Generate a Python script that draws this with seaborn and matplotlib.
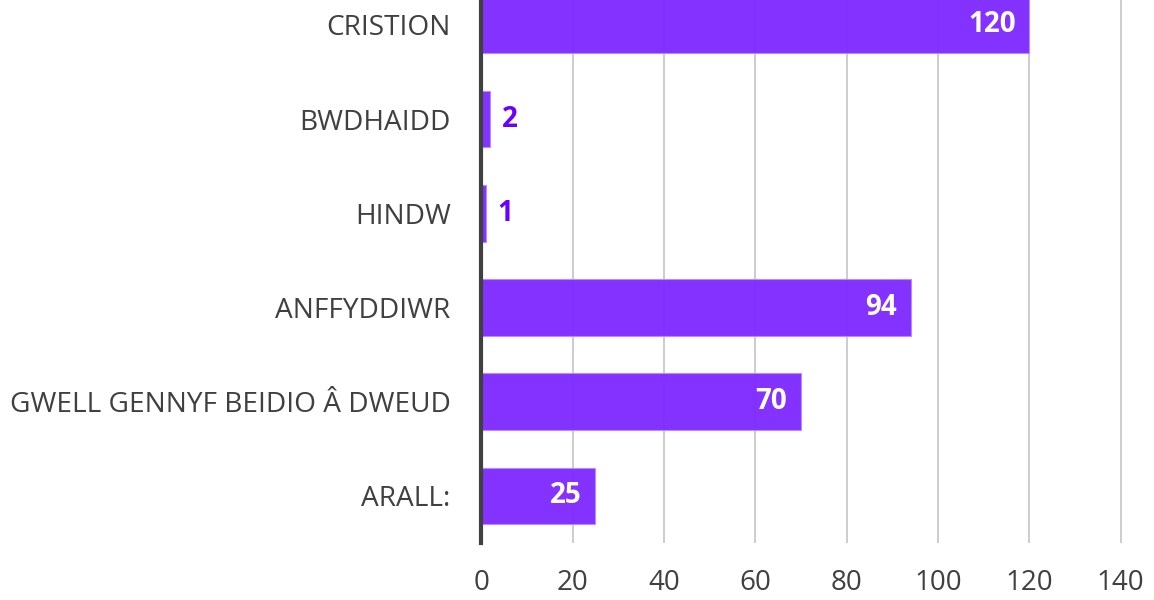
import matplotlib
matplotlib.use("Agg")
import matplotlib.pyplot as plt
import seaborn as sns
import pandas as pd

categories = ["CRISTION", "BWDHAIDD", "HINDW", "ANFFYDDIWR", "GWELL GENNYF BEIDIO Â DWEUD", "ARALL:"]
values = [120, 2, 1, 94, 70, 25]
xticks = [0, 20, 40, 60, 80, 100, 120, 140]

sns.set_theme(style="white")
plt.rcParams["font.family"] = ["Open Sans", "DejaVu Sans"]

df = pd.DataFrame({"cat": categories, "val": values})

fig = plt.figure(figsize=(11.54, 6.0), dpi=100)
ax = fig.add_axes([0.417, 0.095, 0.558, 0.942])

bar_color = "#7F2BFF"
sns.barplot(data=df, y="cat", x="val", orient="h", color=bar_color, width=0.6,
            saturation=1, ax=ax, zorder=2, edgecolor="#B58CFF", linewidth=0.8, alpha=0.97)

ax.set_xlim(0, 141)
ax.set_xticks(xticks)
ax.set_xticklabels([str(t) for t in xticks], fontsize=20, color="#404040")
ax.tick_params(axis="x", length=0, pad=19)
ax.tick_params(axis="y", length=0, pad=22)
for lbl in ax.get_yticklabels():
    lbl.set_fontsize(20.2)
    lbl.set_color("#404040")
ax.set_xlabel("")
ax.set_ylabel("")
ax.grid(axis="x", color="#C8C8C8", linewidth=1.3, zorder=1)
ax.set_axisbelow(True)
for s in ["top", "right", "bottom"]:
    ax.spines[s].set_visible(False)
ax.spines["left"].set_color("#404040")
ax.spines["left"].set_linewidth(3)
ax.spines["left"].set_zorder(5)

for i, v in enumerate(values):
    if v >= 10:
        ax.text(v - 3, i, str(v), ha="right", va="center", color="white",
                fontsize=20, fontweight="bold", zorder=4)
    else:
        ax.text(v + 2.5, i, str(v), ha="left", va="center", color="#6A00FF",
                fontsize=20, fontweight="bold", zorder=4)

fig.savefig("out.png", dpi=100)
